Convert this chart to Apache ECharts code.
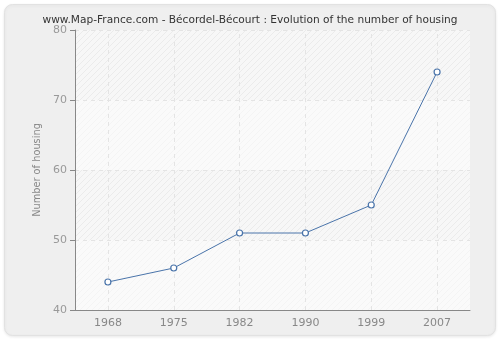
<!DOCTYPE html>
<html><head><meta charset="utf-8">
<script src="https://cdn.jsdelivr.net/npm/echarts@6/dist/echarts.min.js"></script>
<style>html,body{margin:0;padding:0;background:#fff}#c{width:500px;height:340px}</style>
</head><body><div id="c"></div>
<script>
var years = ['1968','1975','1982','1990','1999','2007'];
var housing = [44, 46, 51, 51, 55, 74];
var yTicks = [40, 50, 60, 70, 80];

function hatch(bg, line) {
  var c = document.createElement('canvas');
  c.width = 6; c.height = 6;
  var g = c.getContext('2d');
  g.fillStyle = bg; g.fillRect(0, 0, 6, 6);
  g.strokeStyle = line; g.lineWidth = 1;
  g.beginPath();
  g.moveTo(-1, 7); g.lineTo(7, -1);
  g.moveTo(5, 7); g.lineTo(7, 5);
  g.moveTo(-1, 1); g.lineTo(1, -1);
  g.stroke();
  return {image: c, repeat: 'repeat'};
}

var chart = echarts.init(document.getElementById('c'), null, {renderer: 'canvas'});
chart.setOption({
  backgroundColor: '#ffffff',
  animation: false,
  graphic: [{
    type: 'rect', z: -10, silent: true,
    shape: {x: 4.5, y: 4.5, width: 491, height: 331, r: 8},
    style: {fill: '#efefef', stroke: '#e2e2e2', lineWidth: 1,
            shadowColor: 'rgba(0,0,0,0.08)', shadowBlur: 3, shadowOffsetY: 1}
  }],
  title: {
    text: 'www.Map-France.com - Bécordel-Bécourt : Evolution of the number of housing',
    left: 'center', top: 10,
    textStyle: {fontFamily: 'DejaVu Sans', fontSize: 10.6, fontWeight: 'normal', color: '#333'}
  },
  grid: {left: 75, right: 30, top: 30, bottom: 30, show: true, backgroundColor: '#fafafa', borderWidth: 0},
  xAxis: {
    type: 'category', data: years, boundaryGap: true,
    axisLine: {lineStyle: {color: '#888', width: 1}},
    axisTick: {alignWithLabel: true, length: 5, lineStyle: {color: '#888'}},
    axisLabel: {color: '#888', fontFamily: 'DejaVu Sans', fontSize: 11, margin: 8},
    splitLine: {show: false}
  },
  yAxis: {
    type: 'value', min: yTicks[0], max: yTicks[yTicks.length - 1], interval: 10,
    name: 'Number of housing', nameLocation: 'middle', nameGap: 22,
    nameTextStyle: {color: '#888', fontFamily: 'DejaVu Sans', fontSize: 9.8},
    axisLine: {show: true, lineStyle: {color: '#888', width: 1}},
    axisTick: {show: true, length: 5, lineStyle: {color: '#888'}},
    axisLabel: {color: '#999', fontFamily: 'DejaVu Sans', fontSize: 11, margin: 8},
    splitLine: {show: true, lineStyle: {color: '#e4e4e4', type: [4, 4]}},
    splitArea: {show: true, areaStyle: {color: [hatch('#fafafa', '#f4f4f4'), hatch('#f7f7f7', '#ebebeb')]}}
  },
  series: [{
    type: 'line', data: housing,
    symbol: 'circle', symbolSize: 6,
    lineStyle: {color: '#4a74aa', width: 1},
    itemStyle: {color: '#ffffff', borderColor: '#4a74aa', borderWidth: 1.2},
    z: 5,
    markLine: {
      silent: true, symbol: 'none', label: {show: false}, z: 1,
      lineStyle: {color: '#e4e4e4', type: [4, 4], width: 1},
      data: years.map(function (y) { return {xAxis: y}; })
    }
  }]
});
</script></body></html>
